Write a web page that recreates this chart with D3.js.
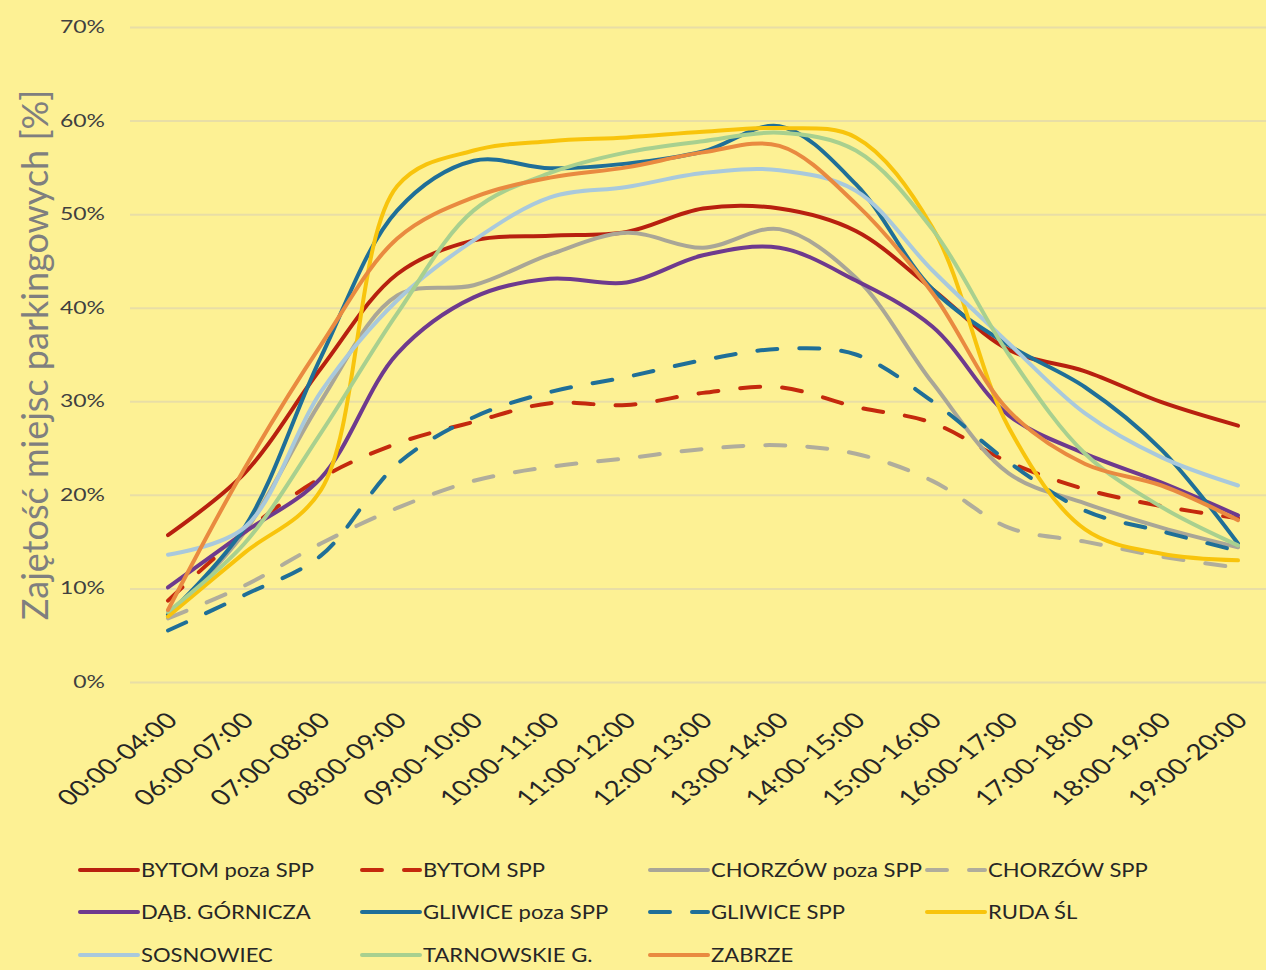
<!DOCTYPE html>
<meta charset="utf-8">
<title>Zajętość miejsc parkingowych</title>
<style>
body { margin: 0; background: #fdf194; }
text { font-family: Lato, "Noto Sans", sans-serif; }
.grid line { stroke: #e8dea6; stroke-width: 2; }
.grid path { display: none; }
</style>
<body>
<script src="https://d3js.org/d3.v7.min.js"></script>
<script>

// category labels
var categories = ["00:00-04:00", "06:00-07:00", "07:00-08:00", "08:00-09:00", "09:00-10:00",
  "10:00-11:00", "11:00-12:00", "12:00-13:00", "13:00-14:00", "14:00-15:00",
  "15:00-16:00", "16:00-17:00", "17:00-18:00", "18:00-19:00", "19:00-20:00"];

// occupancy in %
var bytomPoza   = [15.7, 22.3, 33.5, 43.6, 47.2, 47.7, 48.1, 50.6, 50.6, 48.2, 42.0, 35.5, 33.2, 29.9, 27.4];
var bytomSpp    = [8.7, 16.0, 21.8, 25.5, 27.8, 29.8, 29.6, 30.9, 31.5, 29.4, 27.7, 23.5, 20.6, 18.8, 17.5];
var chorzowPoza = [7.0, 16.0, 30.0, 41.3, 42.4, 45.7, 48.0, 46.4, 48.4, 43.2, 32.0, 22.3, 19.1, 16.5, 14.4];
var chorzowSpp  = [6.8, 10.3, 14.8, 18.6, 21.5, 23.0, 23.9, 24.9, 25.3, 24.4, 21.5, 16.5, 15.0, 13.4, 12.2];
var dabGornicza = [10.1, 16.0, 21.8, 35.1, 41.1, 43.1, 42.7, 45.6, 46.4, 42.9, 38.0, 28.5, 24.4, 21.3, 17.8];
var gliwicePoza = [7.2, 16.5, 34.7, 50.4, 55.7, 54.9, 55.4, 56.7, 59.4, 53.2, 42.0, 36.0, 31.5, 24.8, 14.8];
var gliwiceSpp  = [5.5, 9.3, 13.5, 23.3, 28.3, 31.0, 32.6, 34.4, 35.6, 35.0, 30.0, 23.5, 18.3, 16.1, 14.0];
var rudaSl      = [7.0, 13.8, 20.5, 53.0, 56.8, 57.8, 58.2, 58.8, 59.2, 58.2, 48.6, 27.2, 16.3, 13.7, 13.0];
var sosnowiec   = [13.6, 16.5, 31.0, 40.8, 47.2, 51.8, 52.9, 54.4, 54.7, 52.5, 44.0, 36.2, 28.7, 24.0, 21.0];
var tarnowskie  = [7.5, 14.8, 26.6, 39.4, 50.4, 54.4, 56.6, 57.8, 58.7, 56.8, 48.4, 35.0, 24.4, 18.7, 14.6];
var zabrze      = [7.7, 22.8, 36.0, 47.4, 51.8, 53.9, 55.0, 56.6, 57.3, 51.1, 41.6, 29.0, 23.3, 21.0, 17.3];

var seriesNames = ["BYTOM poza SPP", "BYTOM SPP", "CHORZÓW poza SPP", "CHORZÓW SPP",
  "DĄB. GÓRNICZA", "GLIWICE poza SPP", "GLIWICE SPP", "RUDA ŚL",
  "SOSNOWIEC", "TARNOWSKIE G.", "ZABRZE"];
var seriesValues = [bytomPoza, bytomSpp, chorzowPoza, chorzowSpp, dabGornicza,
  gliwicePoza, gliwiceSpp, rudaSl, sosnowiec, tarnowskie, zabrze];
var seriesColors = ["#b8200f", "#c4290d", "#a9a697", "#b0ad9c", "#6e3a8e",
  "#1f6f98", "#1f6f98", "#f8c40c", "#a9c9dc", "#a8d08f", "#e98a40"];
var seriesDashed = [false, true, false, true, false, false, true, false, false, false, false];

var yTicks = [0, 10, 20, 30, 40, 50, 60, 70];

var W = 1266, H = 970;
var svg = d3.select("body").append("svg")
    .attr("width", W)
    .attr("height", H);

svg.append("rect").attr("width", W).attr("height", H).attr("fill", "#fdf194");

// scales
var x = d3.scalePoint().domain(categories).range([168, 1238]);
var y = d3.scaleLinear().domain([0, 70]).range([682, 27]);

// gridlines
svg.append("g")
    .attr("class", "grid")
    .attr("transform", "translate(130,0)")
    .call(d3.axisLeft(y).tickValues(yTicks).tickSize(-(W - 130)).tickFormat(""));

// y tick labels (the original picture is stretched sideways, so is the text)
svg.append("g").selectAll("text")
    .data(yTicks)
    .enter().append("text")
      .attr("transform", function(d) { return "translate(105," + y(d) + ") scale(1.35,1)"; })
      .attr("dy", "0.35em")
      .attr("text-anchor", "end")
      .attr("font-size", 17)
      .attr("fill", "#404040")
      .text(function(d) { return d + "%"; });

// x tick labels
svg.append("g").selectAll("text")
    .data(categories)
    .enter().append("text")
      .attr("transform", function(d) { return "translate(" + (x(d) - 4) + ",710) scale(1.28,1) rotate(-45)"; })
      .attr("text-anchor", "end")
      .attr("dy", "0.75em")
      .attr("font-size", 22)
      .attr("fill", "#262626")
      .text(function(d) { return d; });

// y axis title
svg.append("text")
    .attr("transform", "translate(48,355) rotate(-90)")
    .attr("text-anchor", "middle")
    .attr("font-size", 36)
    .attr("fill", "#7f7f7f")
    .text("Zajętość miejsc parkingowych [%]");

// lines
var line = d3.line()
    .x(function(d, i) { return x(categories[i]); })
    .y(function(d) { return y(d); })
    .curve(d3.curveCatmullRom.alpha(0.5));

svg.append("g").selectAll("path")
    .data(seriesValues)
    .enter().append("path")
      .attr("d", line)
      .attr("fill", "none")
      .attr("stroke", function(d, i) { return seriesColors[i]; })
      .attr("stroke-width", 4)
      .attr("stroke-linecap", "round")
      .attr("stroke-dasharray", function(d, i) { return seriesDashed[i] ? "20,22" : null; });

// legend
var legCols = [78, 360, 648, 925], legRows = [870, 912, 955];
var legend = svg.append("g").selectAll("g")
    .data(seriesNames)
    .enter().append("g")
      .attr("transform", function(d, i) { return "translate(" + legCols[i % 4] + "," + legRows[Math.floor(i / 4)] + ")"; });
legend.append("line")
    .attr("x1", 2).attr("x2", 60)
    .attr("stroke", function(d, i) { return seriesColors[i]; })
    .attr("stroke-width", 4)
    .attr("stroke-linecap", "round")
    .attr("stroke-dasharray", function(d, i) { return seriesDashed[i] ? "20,22" : null; });
legend.append("text")
    .attr("transform", "translate(63,0) scale(1.16,1)")
    .attr("dy", "0.35em")
    .attr("font-size", 19)
    .attr("fill", "#262626")
    .text(function(d) { return d; });

</script>
</body>
